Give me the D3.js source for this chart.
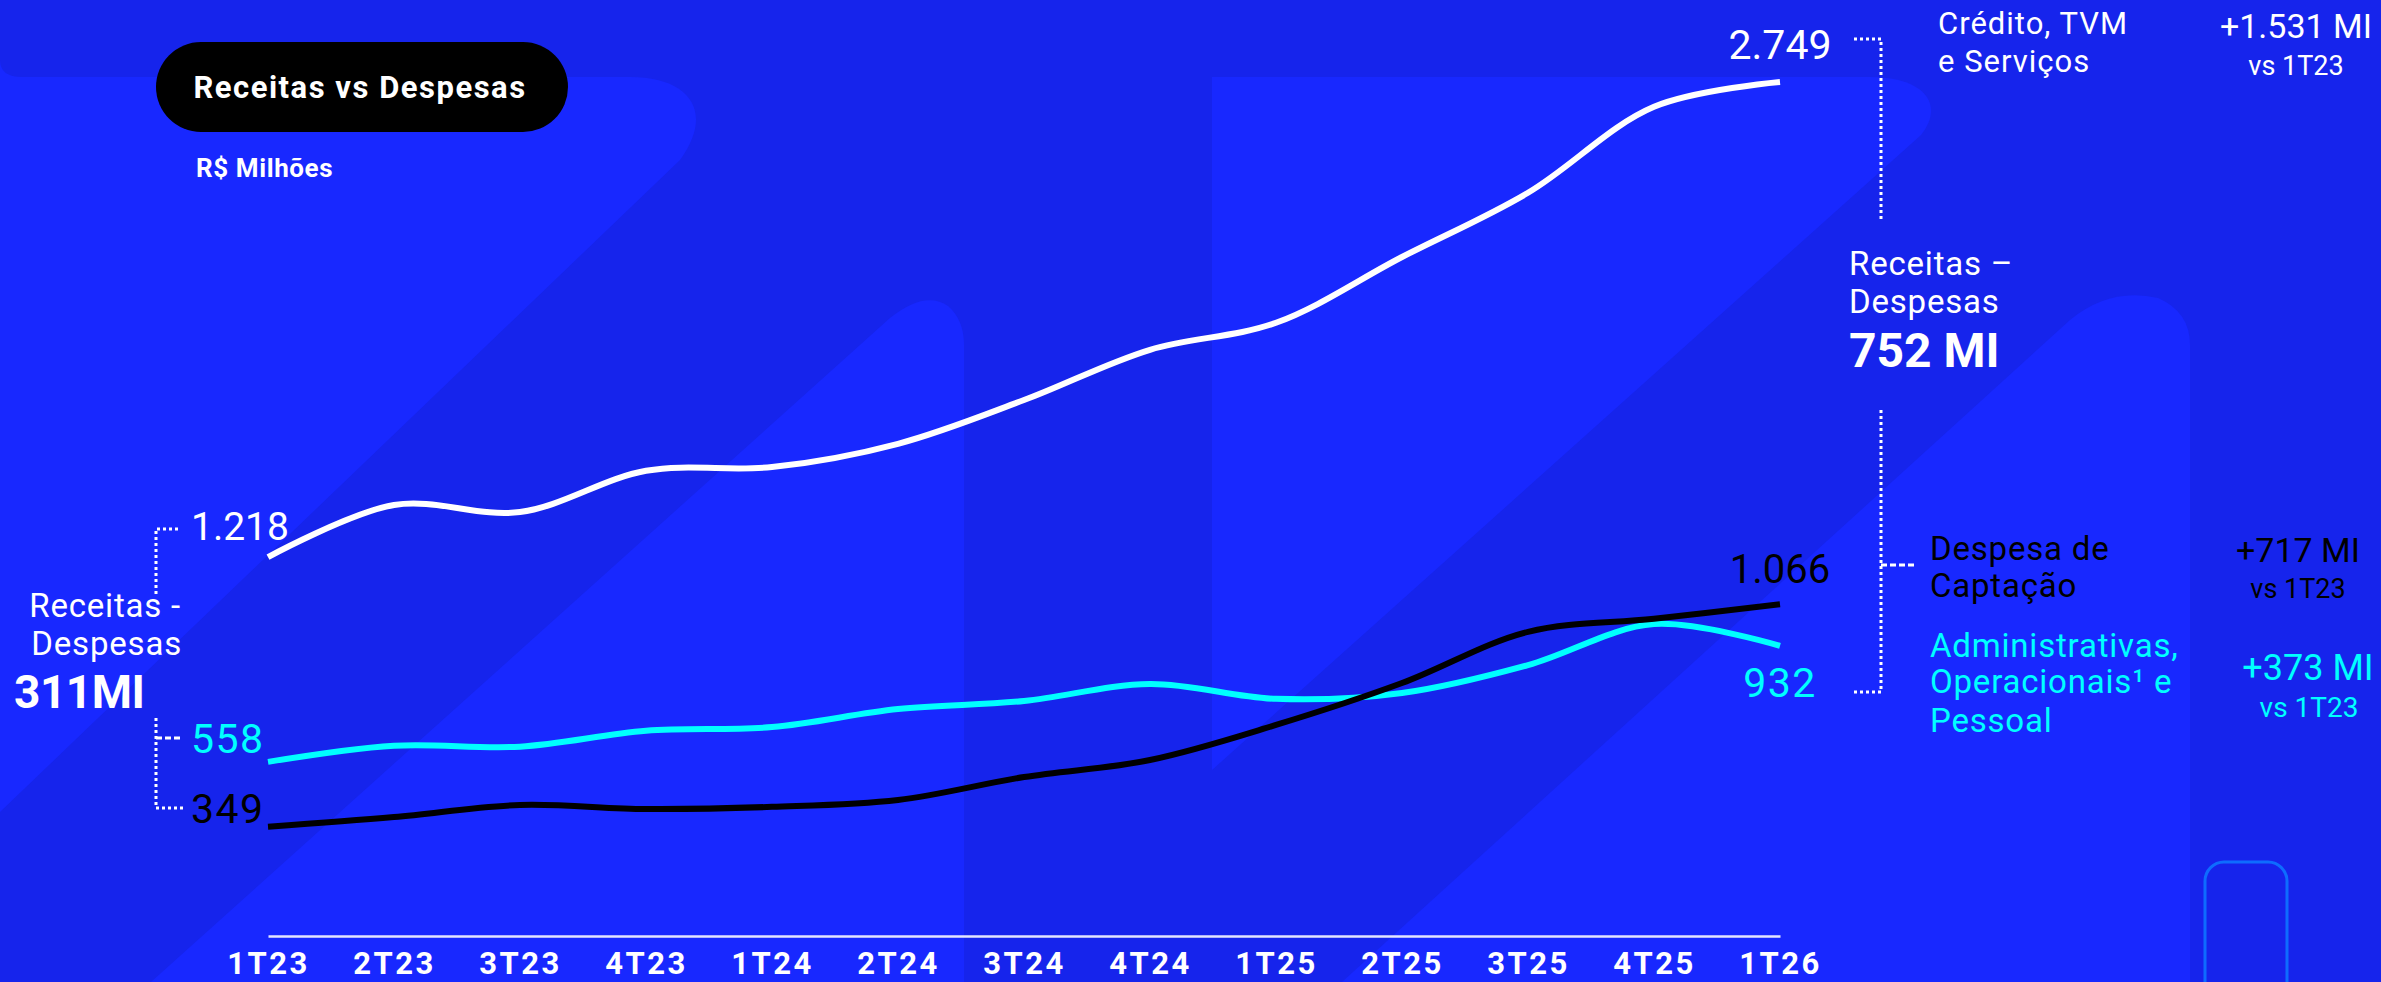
<!DOCTYPE html>
<html><head><meta charset="utf-8">
<script src="https://cdn.jsdelivr.net/npm/d3@7"></script>
<style>
html,body{margin:0;padding:0;background:#1624EC;overflow:hidden}
svg{display:block}
text{font-family:Roboto,"Noto Sans",sans-serif}
</style></head>
<body><svg id="c" width="2381" height="982"></svg>
<script>
// ---- data (R$ milhões) ----
const quarters = ["1T23","2T23","3T23","4T23","1T24","2T24","3T24","4T24","1T25","2T25","3T25","4T25","1T26"];
const receitas = [1218, 1386, 1363, 1496, 1508, 1583, 1724, 1886, 1973, 2185, 2392, 2669, 2749];
const administrativas = [558, 610, 607, 658, 670, 728, 754, 809, 761, 780, 870, 1002, 932];
const captacao = [349, 380, 419, 406, 413, 435, 509, 564, 677, 812, 977, 1019, 1066];
const startLabels = ["1.218", "558", "349"];
const endLabels = ["2.749", "1.066", "932"];

const W = 2381, H = 982;
const LIGHT = "#1828FF", DARK = "#1624EC", CYAN = "#00FFFF";
const svg = d3.select("#c");

// background
svg.append("rect").attr("width", W).attr("height", H).attr("fill", DARK);
const shapes = [
  "M0,60 Q0,77 22,77 L630,77 C690,77 715,112 680,160 L0,812 Z",
  "M151,982 L890,318 Q925,290 948,306 Q964,320 964,345 L964,982 Z",
  "M1212,77 L1870,77 C1925,77 1945,105 1921,135 L1212,770 Z",
  "M1342,982 L2070,320 Q2110,287 2158,298 Q2190,312 2190,345 L2190,982 Z"
];
svg.selectAll("path.bg").data(shapes).join("path").attr("class","bg").attr("d", d => d).attr("fill", LIGHT);
svg.append("rect").attr("x", 2205).attr("y", 862).attr("width", 82).attr("height", 200).attr("rx", 19)
  .attr("fill", "none").attr("stroke", "#0E6CFF").attr("stroke-width", 3);

// scales
const x = d3.scalePoint().domain(quarters).range([268, 1780]);
const y = d3.scaleLinear().domain([0, 2749]).range([935, 82]);

// axis
const ax = svg.append("g").attr("transform", "translate(0,936)")
  .call(d3.axisBottom(x).tickSize(0).tickSizeOuter(0).tickPadding(16));
ax.select(".domain").attr("stroke", "#E4E6FF").attr("stroke-width", 2.5);
ax.selectAll("text").attr("fill", "#fff").attr("font-size", 31).attr("font-weight", 700)
  .attr("letter-spacing", 2.5).style("font-family", "Roboto, sans-serif");

// lines
const line = d3.line().x((d, i) => x(quarters[i])).y(d => y(d)).curve(d3.curveCatmullRom.alpha(0.5));
const series = [
  {v: receitas, c: "#FFFFFF"},
  {v: administrativas, c: CYAN},
  {v: captacao, c: "#000000"}
];
svg.selectAll("path.ln").data(series).join("path").attr("class","ln")
  .attr("d", d => line(d.v)).attr("fill", "none").attr("stroke", d => d.c)
  .attr("stroke-width", 6).attr("stroke-linecap", "butt");

// title pill
svg.append("rect").attr("x", 156).attr("y", 42).attr("width", 412).attr("height", 90).attr("rx", 45).attr("fill", "#000");
svg.append("text").attr("x", 360).attr("y", 98).attr("text-anchor", "middle").attr("fill", "#fff")
  .attr("font-size", 31).attr("font-weight", 700).attr("letter-spacing", 1.5).text("Receitas vs Despesas");
svg.append("text").attr("x", 196).attr("y", 177).attr("fill", "#fff")
  .attr("font-size", 26).attr("font-weight", 700).attr("letter-spacing", 0.6).text("R$ Milhões");

// helper
function txt(xp, yp, s, o = {}) {
  return svg.append("text").attr("x", xp).attr("y", yp).attr("fill", o.fill || "#fff")
    .attr("font-size", o.size || 32).attr("font-weight", o.weight || 400)
    .attr("text-anchor", o.anchor || "start").attr("letter-spacing", o.ls === undefined ? 0.8 : o.ls).text(s);
}
function dotted(d, dash) {
  svg.append("path").attr("d", d).attr("fill", "none").attr("stroke", "#fff")
    .attr("stroke-width", 3).attr("stroke-dasharray", dash || "3 3");
}

// start labels
const startColors = ["#fff", CYAN, "#000"];
const startY = [540, 753, 823];
const startSize = [39, 41, 41];
const startLs = [0, 1.5, 1.5];
startLabels.forEach((s, i) => txt(191, startY[i], s, {size: startSize[i], fill: startColors[i], ls: startLs[i]}));

// end labels
const endColors = ["#fff", "#000", CYAN];
const endY = [59, 583, 697];
const endSize = [41, 40, 41];
const endLs = [0, 0, 1.5];
endLabels.forEach((s, i) => txt(x(quarters[quarters.length - 1]), endY[i], s,
  {size: endSize[i], fill: endColors[i], anchor: "middle", ls: endLs[i]}));

// left brackets
dotted("M178,529 H156 V594");
dotted("M156,718 V808 H183");
dotted("M156,738 H181", "6 3");
txt(181, 617, "Receitas -", {anchor: "end", size: 33, ls: 0.8});
txt(182, 655, "Despesas", {anchor: "end", size: 33, ls: 0.8});
txt(14, 708, "311MI", {size: 46, weight: 700, ls: -0.5});

// right brackets
dotted("M1854,39 H1881 V222");
dotted("M1881,410 V692 H1854");
dotted("M1881,565 H1916", "6 3");

txt(1938, 34, "Crédito, TVM", {size: 31, ls: 1});
txt(1938, 72, "e Serviços", {size: 31, ls: 1});
txt(2296, 38, "+1.531 MI", {size: 34, anchor: "middle", ls: 0});
txt(2296, 75, "vs 1T23", {size: 27, anchor: "middle", ls: 0});

txt(1849, 275, "Receitas –", {size: 33});
txt(1849, 313, "Despesas", {size: 33});
txt(1849, 367, "752 MI", {size: 48, weight: 700, ls: 0});

txt(1930, 560, "Despesa de", {fill: "#000", size: 33});
txt(1930, 597, "Captação", {fill: "#000", size: 33});
txt(2298, 562, "+717 MI", {size: 34, anchor: "middle", fill: "#000", ls: 0});
txt(2298, 598, "vs 1T23", {size: 27, anchor: "middle", fill: "#000", ls: 0});

txt(1930, 657, "Administrativas,", {fill: CYAN, size: 33});
txt(1930, 693, "Operacionais¹ e", {fill: CYAN, size: 33});
txt(1930, 732, "Pessoal", {fill: CYAN, size: 33});
txt(2308, 680, "+373 MI", {size: 36, anchor: "middle", fill: CYAN, ls: 0});
txt(2309, 717, "vs 1T23", {size: 28, anchor: "middle", fill: CYAN, ls: 0});
</script></body></html>
